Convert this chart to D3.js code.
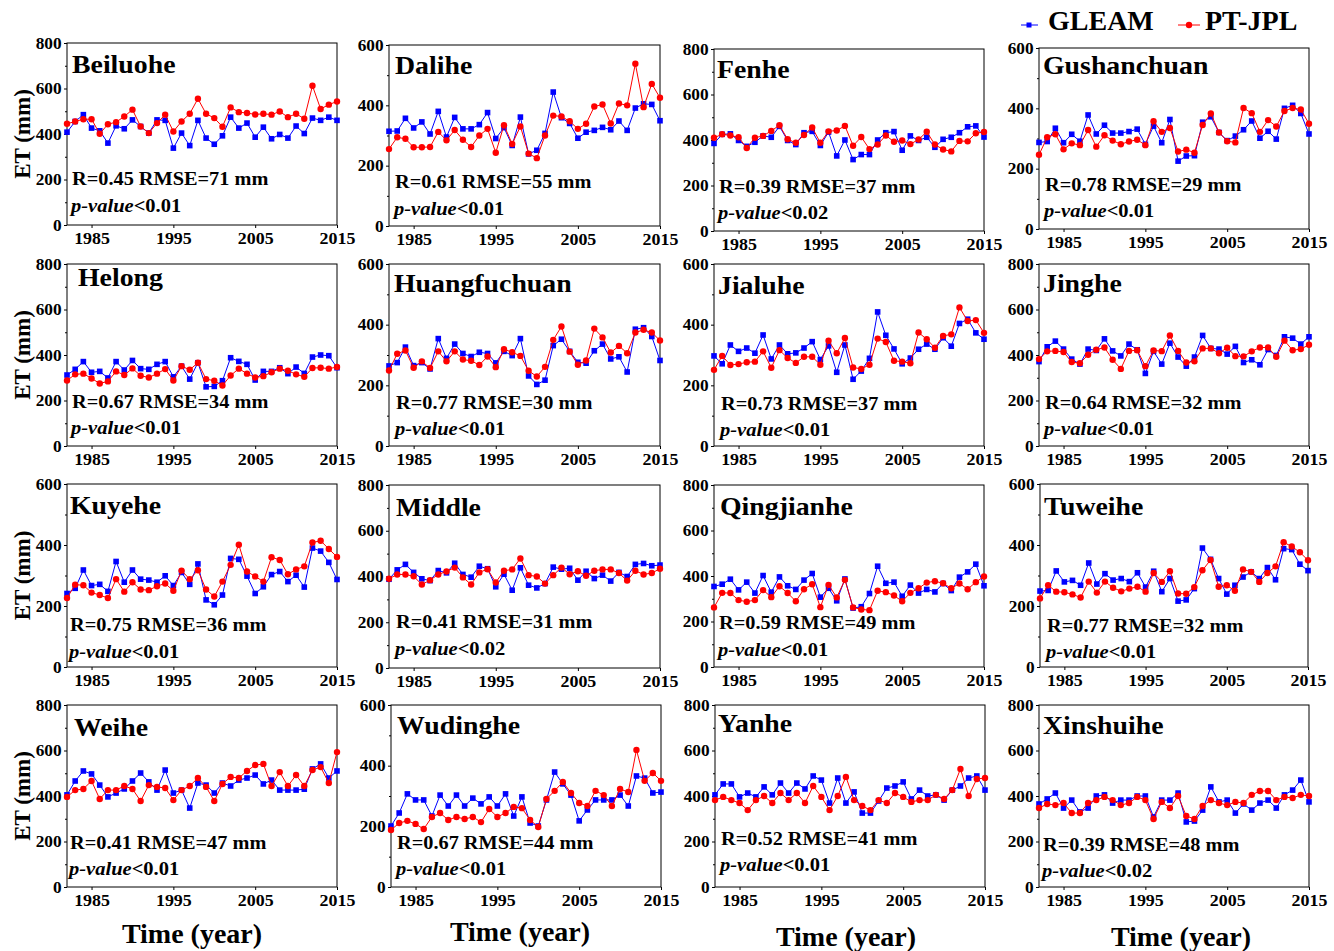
<!DOCTYPE html>
<html>
<head>
<meta charset="utf-8">
<script src="https://cdn.jsdelivr.net/npm/d3@7"></script>
<style>
body { margin: 0; background: #fff; }
text { font-family: "Liberation Serif", "Times New Roman", serif; font-weight: bold; fill: #000; }
</style>
</head>
<body>
<div id="chart"></div>
<script>
// years on the x axis
var years = [1982,1983,1984,1985,1986,1987,1988,1989,1990,1991,1992,1993,1994,1995,1996,1997,
             1998,1999,2000,2001,2002,2003,2004,2005,2006,2007,2008,2009,2010,2011,2012,2013,2014,2015];
var xTicks = [1985, 1995, 2005, 2015];

// basins, y-axis maximum and statistics
var basins = ["Beiluohe","Dalihe","Fenhe","Gushanchuan","Helong","Huangfuchuan","Jialuhe","Jinghe",
              "Kuyehe","Middle","Qingjianhe","Tuweihe","Weihe","Wudinghe","Yanhe","Xinshuihe"];
var yMax  = [800,600,800,600,800,600,600,800,600,800,800,600,800,600,800,800];
var rVals = ["0.45","0.61","0.39","0.78","0.67","0.77","0.73","0.64","0.75","0.41","0.59","0.77","0.41","0.67","0.52","0.39"];
var rmse  = [71,55,37,29,34,30,37,32,36,31,49,32,47,44,41,48];
var pVals = ["0.01","0.01","0.02","0.01","0.01","0.01","0.01","0.01","0.01","0.02","0.01","0.01","0.01","0.01","0.01","0.02"];

// ET (mm) per basin, GLEAM and PT-JPL
var beiluoheGleam = [408,455,485,426,414,360,436,423,462,433,404,462,460,338,404,349,460,382,355,392,474,426,448,386,430,379,398,382,435,402,470,460,474,460];
var beiluohePtjpl = [445,455,465,465,401,443,452,477,507,433,404,448,485,411,455,489,555,489,470,432,517,496,492,486,489,485,499,474,489,467,612,510,529,543];
var daliheGleam = [314,315,357,325,345,305,380,295,360,322,322,336,376,290,326,267,361,239,251,307,444,359,340,291,311,317,327,319,348,317,391,405,403,349];
var dalihePtjpl = [255,294,289,261,261,262,312,284,318,286,262,300,322,243,334,272,330,240,225,300,366,363,347,322,339,396,403,340,406,400,538,394,471,425];
var fenheGleam = [385,425,427,398,372,390,418,412,460,398,380,432,438,376,435,330,400,314,336,336,400,432,437,355,418,398,412,368,403,412,432,458,462,413];
var fenhePtjpl = [410,425,420,412,365,410,418,440,465,403,388,422,455,388,438,442,462,375,413,360,380,420,392,398,382,402,436,380,358,350,396,394,430,435];
var gushanchuanGleam = [287,290,334,286,314,291,378,315,344,318,318,323,331,281,341,286,363,225,242,243,354,372,320,293,308,329,358,301,324,298,400,410,383,315];
var gushanchuanPtjpl = [246,304,314,264,284,278,328,273,311,293,281,290,296,278,357,322,335,257,263,253,345,383,320,291,287,401,384,322,361,340,391,401,396,349];
var helongGleam = [312,337,371,324,328,299,371,334,376,340,337,359,371,304,351,294,366,260,262,287,388,372,359,290,328,328,344,318,347,319,391,400,397,344];
var helongPtjpl = [288,315,318,297,275,284,328,312,341,309,301,318,338,288,351,335,366,294,287,266,310,340,318,301,307,324,340,331,315,304,343,344,340,347];
var huangfuchuanGleam = [264,275,326,265,275,254,354,289,336,305,295,309,305,274,312,298,354,231,203,217,331,352,312,276,273,314,336,287,294,244,385,390,361,282];
var huangfuchuanPtjpl = [249,304,315,258,279,257,312,279,312,285,281,267,295,260,319,309,297,248,229,261,350,394,311,268,282,387,358,308,330,306,374,383,374,348];
var jialuheGleam = [297,271,333,312,323,306,366,287,333,304,307,323,344,285,330,243,333,220,247,289,442,365,320,271,290,319,336,319,357,329,404,418,373,352];
var jialuhePtjpl = [251,297,267,270,276,278,312,258,316,290,274,294,294,268,347,306,356,259,254,268,354,343,281,278,273,374,352,324,363,368,457,412,415,373];
var jingheGleam = [371,436,461,426,382,360,426,420,471,418,396,448,423,319,416,360,452,391,351,391,486,429,426,404,438,367,379,357,424,398,480,474,448,480];
var jinghePtjpl = [382,416,418,413,369,364,401,423,433,379,339,418,421,351,420,417,486,418,367,372,429,429,408,432,395,394,416,433,433,392,463,421,426,445];
var kuyeheGleam = [241,258,318,267,271,248,346,278,318,288,285,278,299,267,310,271,338,220,204,236,356,353,298,241,263,303,313,280,301,262,390,380,343,287];
var kuyehePtjpl = [226,270,268,244,236,226,288,247,278,254,252,265,274,250,316,288,317,254,231,280,335,401,313,297,280,360,351,304,320,330,408,414,387,361];
var middleGleam = [388,429,453,418,390,382,426,416,458,409,397,445,434,355,410,340,438,362,350,369,441,432,436,384,423,391,406,380,418,400,453,457,447,450];
var middlePtjpl = [390,409,409,401,365,384,409,422,439,396,365,418,432,374,425,431,479,406,400,369,406,439,410,423,403,425,431,431,415,382,425,409,415,434];
var qingjianheGleam = [354,364,386,339,373,325,402,329,396,357,341,382,411,307,346,291,387,259,265,323,443,368,373,311,360,325,341,330,367,336,395,418,452,357];
var qingjianhePtjpl = [262,326,325,294,287,294,338,307,355,325,289,342,364,263,361,306,383,262,253,250,335,329,314,289,326,346,371,377,368,346,367,342,373,398];
var tuweiheGleam = [249,251,315,279,284,268,341,272,306,285,290,280,309,262,314,247,290,216,220,257,390,353,290,239,268,295,312,290,326,286,388,385,337,316];
var tuweihePtjpl = [225,268,247,245,238,228,280,244,280,260,248,257,263,247,308,279,314,241,240,262,317,351,263,268,250,320,312,279,308,330,409,395,376,350];
var weiheGleam = [405,466,510,497,448,396,413,431,466,501,462,426,514,413,426,347,457,448,413,457,444,470,479,492,453,470,426,426,426,430,519,541,479,510];
var weihePtjpl = [396,426,431,466,387,426,426,444,431,378,448,440,435,382,426,444,479,440,378,453,484,479,510,536,541,444,505,444,492,444,514,527,457,593];
var wudingheGleam = [201,244,307,287,287,234,303,267,303,267,293,274,297,267,307,234,297,211,201,287,379,340,303,218,254,287,287,287,303,267,366,359,310,313];
var wudinghePtjpl = [188,211,218,208,191,231,244,221,231,224,231,214,257,231,244,264,260,221,198,290,317,346,310,277,267,317,303,267,323,313,452,350,376,350];
var yanheGleam = [405,453,453,396,413,396,440,405,457,413,457,431,488,470,369,479,369,418,325,325,378,435,444,462,387,426,400,405,382,426,444,479,488,426];
var yanhePtjpl = [382,396,382,369,338,382,400,369,413,382,413,369,444,396,338,400,484,382,356,338,382,369,413,396,374,382,382,405,387,426,519,400,475,479];
var xinshuiheGleam = [365,387,413,347,382,330,347,400,405,369,382,382,400,400,308,382,382,413,286,290,338,440,374,382,325,365,338,369,382,347,405,426,470,374];
var xinshuihePtjpl = [347,365,360,369,325,325,369,382,396,382,360,369,396,382,299,374,347,400,312,299,356,382,369,360,374,369,405,422,422,382,396,391,405,400];

var gleam = [beiluoheGleam, daliheGleam, fenheGleam, gushanchuanGleam, helongGleam, huangfuchuanGleam, jialuheGleam, jingheGleam,
             kuyeheGleam, middleGleam, qingjianheGleam, tuweiheGleam, weiheGleam, wudingheGleam, yanheGleam, xinshuiheGleam];
var ptjpl = [beiluohePtjpl, dalihePtjpl, fenhePtjpl, gushanchuanPtjpl, helongPtjpl, huangfuchuanPtjpl, jialuhePtjpl, jinghePtjpl,
             kuyehePtjpl, middlePtjpl, qingjianhePtjpl, tuweihePtjpl, weihePtjpl, wudinghePtjpl, yanhePtjpl, xinshuihePtjpl];

// layout: plot frame of each panel [left, top, width, height]
var frames = [
  [67,43,270,182],[389,45,271,181],[714,49,270,182],[1039,48,270,181],
  [67,264,270,182],[389,264,271,182],[714,264,270,182],[1039,264,270,182],
  [67,484,270,183],[389,485,271,183],[714,485,270,182],[1040,484,268,183],
  [67,705,270,182],[391,705,270,182],[715,705,270,182],[1039,705,270,182]
];
// text offsets: title [dx, dy from top], stats [dx, dy from bottom], p-value dy from bottom
var titleOff = [[5,21],[6,20],[3,20],[4,17],[11,13],[5,19],[4,21],[4,19],[3,21],[7,22],[6,21],[4,22],[7,22],[6,20],[3,18],[4,20]];
var statOff  = [[5,47],[6,45],[5,45],[6,45],[5,45],[7,44],[7,43],[6,44],[3,43],[7,47],[5,45],[7,42],[3,45],[6,45],[6,49],[4,43]];
var pOff     = [20,18,19,19,19,18,17,18,16,20,18,16,19,19,23,17];

var blue = "#0000ff", red = "#ff0000";

var svg = d3.select("#chart")
    .append("svg")
    .attr("width", 1334)
    .attr("height", 951);

// text that is a little wider than the font (the original figure is stretched sideways)
function wideText(g, x, y, size, sx) {
  return g.append("text")
      .attr("transform", "translate(" + x + "," + y + ") scale(" + sx + ",1)")
      .attr("dy", "0.35em")
      .style("font-size", size + "px");
}

function drawSeries(g, vals, x, y, color, isSquare) {
  var pts = years.map(function(yr, i) { return [yr, vals[i]]; });
  g.append("path")
      .datum(pts)
      .attr("fill", "none")
      .attr("stroke", color)
      .attr("stroke-width", 1)
      .attr("d", d3.line()
          .x(function(d) { return x(d[0]); })
          .y(function(d) { return y(d[1]); }));
  if (isSquare) {
    g.selectAll(null).data(pts).enter().append("rect")
        .attr("x", function(d) { return x(d[0]) - 2.8; })
        .attr("y", function(d) { return y(d[1]) - 2.8; })
        .attr("width", 5.6).attr("height", 5.6)
        .attr("fill", color);
  } else {
    g.selectAll(null).data(pts).enter().append("circle")
        .attr("cx", function(d) { return x(d[0]); })
        .attr("cy", function(d) { return y(d[1]); })
        .attr("r", 3.2)
        .attr("fill", color);
  }
}

basins.forEach(function(name, i) {
  var f = frames[i];
  var w = f[2], h = f[3];
  var g = svg.append("g").attr("transform", "translate(" + f[0] + "," + f[1] + ")");

  var x = d3.scaleLinear().domain([1982, 2015]).range([0, w]);
  var y = d3.scaleLinear().domain([0, yMax[i]]).range([h, 0]);

  // minor y ticks
  g.append("g")
      .call(d3.axisLeft(y).tickValues(d3.range(100, yMax[i], 200)).tickSize(2).tickFormat(""))
      .call(function(a) { a.select(".domain").remove(); });
  // major y ticks
  g.append("g")
      .call(d3.axisLeft(y).tickValues(d3.range(0, yMax[i] + 1, 200)).tickSize(3).tickPadding(2).tickFormat(d3.format("d")))
      .call(function(a) {
        a.select(".domain").remove();
        a.selectAll("text").style("font-size", "16px").attr("transform", "scale(1.08,1)");
      });
  // x axis
  g.append("g")
      .attr("transform", "translate(0," + h + ")")
      .call(d3.axisBottom(x).tickValues(xTicks).tickSize(3).tickPadding(5).tickFormat(d3.format("d")))
      .call(function(a) {
        a.select(".domain").remove();
        a.selectAll("text").style("font-size", "16px").attr("transform", "scale(1.12,1)");
      });

  // frame
  g.append("rect")
      .attr("width", w).attr("height", h)
      .attr("fill", "none").attr("stroke", "#000").attr("stroke-width", 1);

  drawSeries(g, gleam[i], x, y, blue, true);
  drawSeries(g, ptjpl[i], x, y, red, false);

  // labels
  wideText(g, titleOff[i][0], titleOff[i][1], 26, 1.07).text(name);
  wideText(g, statOff[i][0], h - statOff[i][1], 19, 1.07)
      .text("R=" + rVals[i] + " RMSE=" + rmse[i] + " mm");
  var pt = wideText(g, statOff[i][0] - 1, h - pOff[i], 19, 1.08);
  pt.append("tspan").style("font-style", "italic").text("p-value");
  pt.append("tspan").text("<" + pVals[i]);
});

// y axis titles (first column)
[0, 4, 8, 12].forEach(function(i) {
  var f = frames[i];
  svg.append("text")
      .attr("transform", "translate(22," + (f[1] + f[3] / 2) + ") rotate(-90)")
      .attr("text-anchor", "middle")
      .attr("dy", "0.35em")
      .style("font-size", "23px")
      .text("ET (mm)");
});

// x axis titles
var timeX = [192, 520, 846, 1181];
var timeY = [933, 931, 936, 936];
timeX.forEach(function(tx, j) {
  svg.append("text")
      .attr("x", tx).attr("y", timeY[j]).attr("dy", "0.35em")
      .attr("text-anchor", "middle")
      .style("font-size", "28px")
      .text("Time (year)");
});

// legend
svg.append("line").attr("x1", 1021).attr("x2", 1038).attr("y1", 25).attr("y2", 25).attr("stroke", blue).attr("stroke-width", 1);
svg.append("rect").attr("x", 1026.5).attr("y", 22.5).attr("width", 5).attr("height", 5).attr("fill", blue);
svg.append("text").attr("x", 1048).attr("y", 30).style("font-size", "28px").text("GLEAM");
svg.append("line").attr("x1", 1178).attr("x2", 1200).attr("y1", 25).attr("y2", 25).attr("stroke", red).attr("stroke-width", 1);
svg.append("circle").attr("cx", 1189).attr("cy", 25).attr("r", 3.2).attr("fill", red);
svg.append("text").attr("x", 1205).attr("y", 30).style("font-size", "28px").text("PT-JPL");
</script>
</body>
</html>
